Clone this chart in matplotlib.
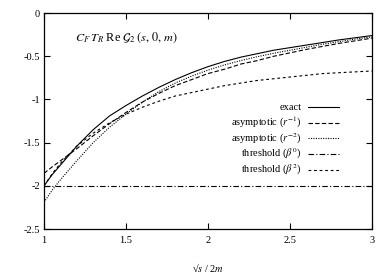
import numpy as np
import matplotlib
matplotlib.use("Agg")
import matplotlib.pyplot as plt
from matplotlib.ticker import FuncFormatter

plt.rcParams["font.family"] = "Liberation Serif"
plt.rcParams["mathtext.fontset"] = "stix"
plt.rcParams["axes.unicode_minus"] = False

# values
x = [1.0, 1.05, 1.1, 1.2, 1.3, 1.4, 1.5, 1.6, 1.7, 1.8, 1.9, 2.0,
     2.1, 2.2, 2.3, 2.4, 2.5, 2.6, 2.7, 2.8, 2.9, 3.0]
exact = [-2.0, -1.87, -1.76, -1.54, -1.35, -1.19, -1.07, -0.96, -0.86, -0.77, -0.69, -0.62,
         -0.56, -0.51, -0.47, -0.43, -0.40, -0.37, -0.34, -0.31, -0.285, -0.26]
asym1 = [-1.855, -1.78, -1.71, -1.57, -1.42, -1.28, -1.15, -1.03, -0.93, -0.84, -0.77, -0.70,
         -0.65, -0.59, -0.55, -0.50, -0.46, -0.42, -0.385, -0.35, -0.32, -0.29]
asym2 = [-2.19, -2.05, -1.93, -1.71, -1.50, -1.32, -1.17, -1.03, -0.91, -0.81, -0.73, -0.66,
         -0.60, -0.55, -0.505, -0.465, -0.43, -0.395, -0.36, -0.33, -0.30, -0.275]
thr0 = [-2.0] * len(x)
thr2 = [-2.0, -1.86, -1.74, -1.54, -1.39, -1.27, -1.17, -1.09, -1.02, -0.96, -0.92, -0.88,
        -0.84, -0.81, -0.78, -0.76, -0.74, -0.72, -0.70, -0.69, -0.68, -0.67]

series = [
    ("exact", exact, "-"),
    ("asymptotic ($r^{-1}$)", asym1, (0, (4, 2))),
    ("asymptotic ($r^{-2}$)", asym2, (0, (1, 1.2))),
    (r"threshold ($\beta^0$)", thr0, (0, (5, 2, 1, 2))),
    (r"threshold ($\beta^2$)", thr2, (0, (2.5, 2.5))),
]

fig = plt.figure(figsize=(3.9, 2.73), dpi=100)
ax = fig.add_axes([0.1128, 0.161, 0.841, 0.791])

for i, (label, vals, ls) in enumerate(series):
    ax.plot(x, vals, color="black", lw=0.8, linestyle=ls)
    # manual legend: text right-aligned, sample line to the right
    ly = 0.565 - i * 0.0725
    ax.text(0.785, ly, label, transform=ax.transAxes, ha="right", va="center", fontsize=7.5)
    ax.plot([0.805, 0.9], [ly, ly], transform=ax.transAxes, color="black", lw=0.8, linestyle=ls)

ax.set_xlim(1, 3)
ax.set_ylim(-2.5, 0)
ax.set_xticks([1, 1.5, 2, 2.5, 3])
ax.set_yticks([0, -0.5, -1, -1.5, -2, -2.5])
fmt = FuncFormatter(lambda v, p: "%g" % v)
ax.xaxis.set_major_formatter(fmt)
ax.yaxis.set_major_formatter(fmt)
ax.tick_params(direction="in", length=4, width=0.8, top=True, right=True, labelsize=7.5)
ax.tick_params(axis="x", pad=5)
ax.tick_params(axis="y", pad=3)
for s in ax.spines.values():
    s.set_linewidth(0.9)

ax.text(0.095, 0.884, r"$C_F\,T_R$ Re $\mathcal{G}_2\,(s,\,0,\,m)$", transform=ax.transAxes,
        fontsize=8.8, va="center")
ax.set_xlabel("\u221a$s$ / 2$m$", fontsize=7.5, labelpad=12)

plt.savefig("out.png", dpi=100)
